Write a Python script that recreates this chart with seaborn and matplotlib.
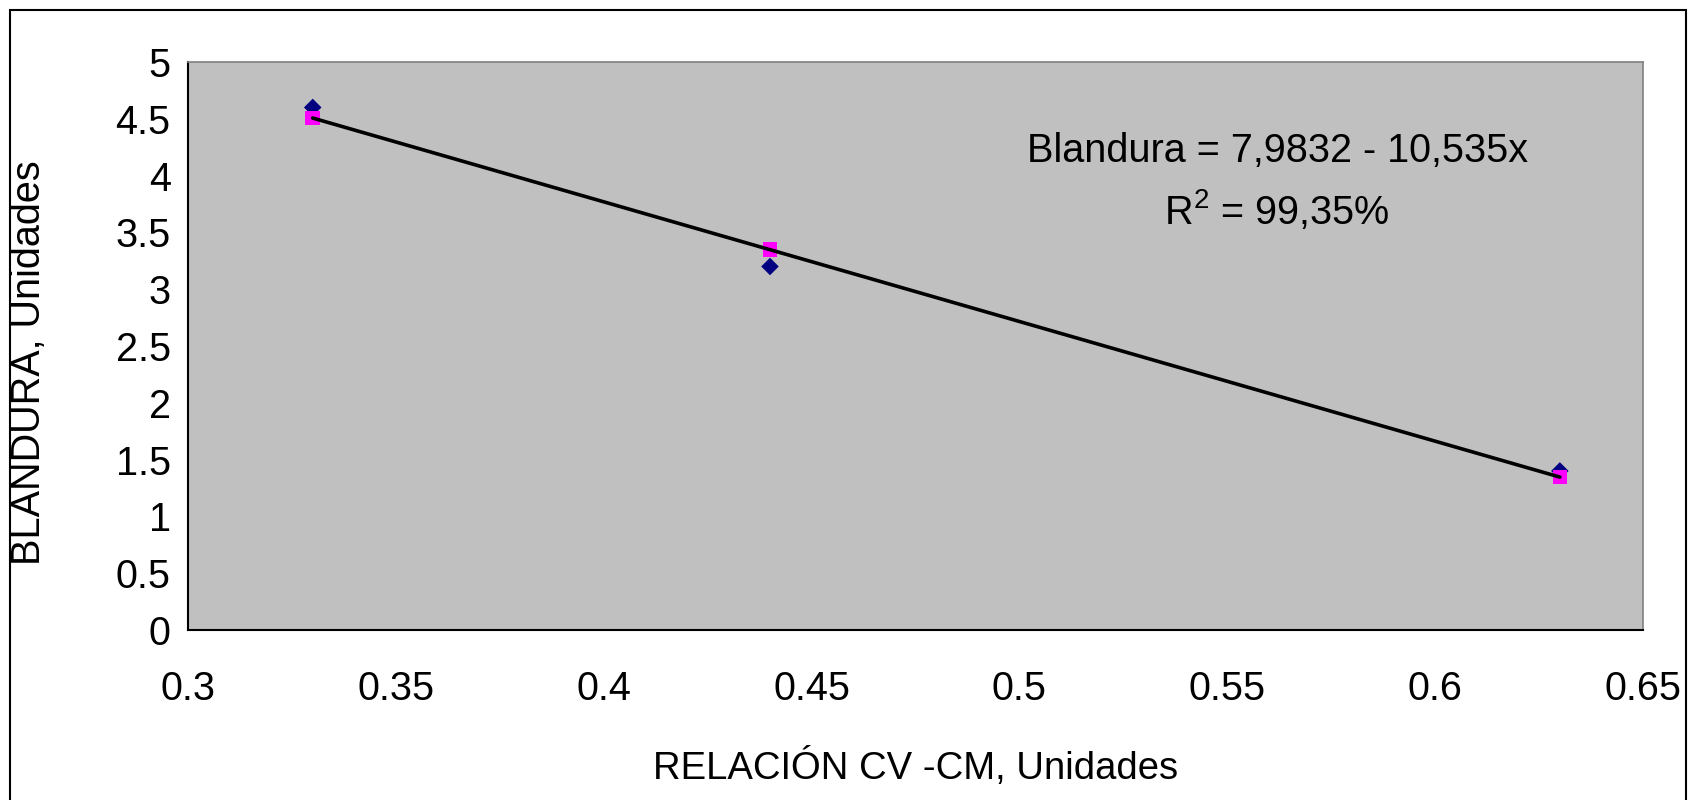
import matplotlib
matplotlib.use("Agg")
import matplotlib.pyplot as plt
import seaborn as sns
import pandas as pd
import numpy as np
from matplotlib.patches import Rectangle

# Data
relacion = [0.33, 0.44, 0.63]
blandura_obs = [4.6, 3.2, 1.4]
blandura_pred = [4.507, 3.348, 1.346]
intercept = 7.9832
slope = -10.535
xticks = [0.3, 0.35, 0.4, 0.45, 0.5, 0.55, 0.6, 0.65]
yticks = [0, 0.5, 1, 1.5, 2, 2.5, 3, 3.5, 4, 4.5, 5]

sns.set_style("white")
plt.rcParams['font.family'] = ['Liberation Sans', 'DejaVu Sans']
plt.rcParams['text.color'] = 'black'
plt.rcParams['axes.labelcolor'] = 'black'
plt.rcParams['mathtext.fontset'] = 'custom'
plt.rcParams['mathtext.rm'] = 'Liberation Sans'

W, H, DPI = 1688, 800, 100
fig = plt.figure(figsize=(W / DPI, H / DPI), dpi=DPI)
ax = fig.add_axes([188 / W, 1 - 630 / H, (1643 - 188) / W, (630 - 62) / H])
ax.set_facecolor("#C0C0C0")

df = pd.DataFrame({"x": relacion, "obs": blandura_obs, "pred": blandura_pred})
line_df = pd.DataFrame({"x": [relacion[0], relacion[-1]]})
line_df["y"] = intercept + slope * line_df["x"]

sns.scatterplot(data=df, x="x", y="obs", marker="D", s=80, color="#000080",
                edgecolor="none", ax=ax, zorder=3)
sns.scatterplot(data=df, x="x", y="pred", marker="s", s=110, color="#FF00FF",
                edgecolor="none", ax=ax, zorder=4)
sns.lineplot(data=line_df, x="x", y="y", color="black", linewidth=2.6, ax=ax, zorder=5)

ax.set_xlim(0.3, 0.65)
ax.set_ylim(0, 5)
ax.set_xticks(xticks)
ax.set_yticks(yticks)
ax.set_xticklabels([f"{t:g}" for t in xticks])
ax.set_yticklabels([f"{t:g}" for t in yticks])
ax.tick_params(axis="both", direction="inout", length=17, width=1.2, color="black",
               labelsize=28.5, labelcolor="black")
ax.tick_params(axis="x", pad=20)
ax.tick_params(axis="y", pad=4)

for s in ["top", "right"]:
    ax.spines[s].set_color("#808080")
    ax.spines[s].set_linewidth(1.2)
for s in ["left", "bottom"]:
    ax.spines[s].set_color("black")
    ax.spines[s].set_linewidth(1.5)

ax.set_xlabel("RELACIÓN CV -CM, Unidades", fontsize=27.5, labelpad=29)
ax.set_ylabel("BLANDURA, Unidades", fontsize=28.5)
ax.yaxis.set_label_coords(-0.096, 0.47)

ax.text(0.562, 4.22, "Blandura = 7,9832 - 10,535x", fontsize=28.5, ha="center", va="center")
ax.text(0.562, 3.70, "R$^{2}$ = 99,35%", fontsize=28.5, ha="center", va="center")

fig.patches.append(Rectangle((10 / W, -20 / H), (W - 12) / W, (H + 10) / H,
                             transform=fig.transFigure, fill=False,
                             edgecolor="black", linewidth=1.5))

fig.savefig("out.png", dpi=DPI)
